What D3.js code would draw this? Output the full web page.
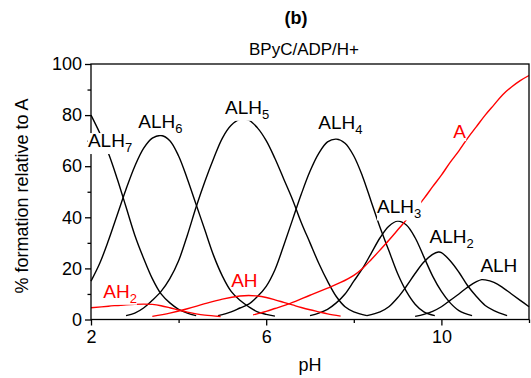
<!DOCTYPE html>
<html>
<head>
<meta charset="utf-8">
<script src="https://cdn.jsdelivr.net/npm/d3@7"></script>
<style>
  html, body { margin: 0; padding: 0; background: #fff; }
  text { font-family: "Liberation Sans", Arial, sans-serif; }
</style>
</head>
<body>
<svg id="chart" width="531" height="378"></svg>
<script>
// ---- data (pH, % formation relative to A) ----
const xTicksMajor = [2, 6, 10];
const xTicksMinor = [4, 8, 12];
const yTicksMajor = [0, 20, 40, 60, 80, 100];
const yTicksMinor = [10, 30, 50, 70, 90];

const ALH7 = [[2.0,80],[2.2,73],[2.4,65],[2.6,55],[2.8,44],[3.0,33],[3.2,24],[3.4,16],[3.6,10],[3.8,6.5],[4.0,4],[4.2,2.5],[4.4,1.5]];
const ALH6 = [[2.0,15],[2.2,22],[2.4,31],[2.6,41],[2.8,51],[3.0,60],[3.2,67],[3.4,71],[3.6,72],[3.8,70],[4.0,64],[4.2,55],[4.4,45],[4.6,35],[4.8,25],[5.0,17],[5.2,11],[5.4,7.5],[5.6,5],[5.8,3],[6.0,2],[6.2,1.3]];
const ALH5 = [[2.8,1.5],[3.0,2.5],[3.2,4.5],[3.4,7.5],[3.6,11],[3.8,16],[4.0,23],[4.2,33],[4.4,44],[4.6,54],[4.8,63],[5.0,71],[5.2,76],[5.4,78.3],[5.6,78],[5.8,75],[6.0,70],[6.2,63],[6.4,55],[6.6,47],[6.8,38],[7.0,30],[7.2,22],[7.4,15],[7.6,9],[7.8,5],[8.0,3],[8.3,1.5]];
const ALH4 = [[4.9,1.5],[5.2,3],[5.4,4.5],[5.6,6],[5.8,9],[6.0,13],[6.2,19.5],[6.4,29],[6.6,39],[6.8,49],[7.0,58],[7.2,65],[7.4,69.5],[7.6,70.6],[7.8,69],[8.0,64],[8.2,56],[8.4,46],[8.6,36],[8.8,27],[9.0,18],[9.2,11],[9.4,6],[9.6,3],[9.85,1.5]];
const ALH3 = [[7.0,1.5],[7.2,2.5],[7.4,4],[7.6,6.5],[7.8,10],[8.0,15],[8.2,20],[8.4,26],[8.6,32],[8.8,36.5],[9.0,38.5],[9.2,37],[9.4,32],[9.6,24.5],[9.8,17],[10.0,11],[10.2,6.5],[10.4,3.5],[10.7,1.5]];
const ALH2 = [[8.3,1.5],[8.6,3],[8.8,5],[9.0,8.5],[9.2,13],[9.4,18],[9.6,22.5],[9.8,25.5],[9.93,26.4],[10.0,26.2],[10.2,23],[10.4,18.5],[10.6,13.2],[10.8,9],[11.0,5.5],[11.2,3.5],[11.5,1.5]];
const ALH  = [[9.4,1.2],[9.6,2],[9.8,3.2],[10.0,5],[10.2,7.5],[10.4,10],[10.6,12.7],[10.8,14.8],[10.92,15.6],[11.0,15.5],[11.2,14.5],[11.4,12.5],[11.6,10],[11.8,7.5],[12.0,5]];
const AH2  = [[2.0,4.6],[2.4,5.2],[2.8,5.8],[3.2,6.0],[3.4,5.9],[3.6,5.4],[3.8,4.6],[4.0,3.7],[4.2,2.9],[4.4,2.2],[4.6,1.7],[4.96,1.2]];
const AH   = [[3.4,1.2],[3.8,2.5],[4.2,4.2],[4.6,6.2],[5.0,8],[5.4,9.2],[5.6,9.4],[5.8,9.2],[6.0,8.6],[6.2,7.7],[6.4,6.7],[6.6,5.7],[6.8,4.7],[7.0,3.8],[7.2,3.0],[7.4,2.2],[7.7,1.3]];
const A    = [[5.7,1.8],[6.0,3.2],[6.2,4.3],[6.55,6.3],[7.0,9.5],[7.4,12.3],[7.7,14.5],[8.0,17.3],[8.2,20],[8.4,23.5],[8.6,27.2],[8.8,31],[9.0,35],[9.2,39],[9.4,43],[9.6,47.3],[9.8,52],[10.0,56.5],[10.2,61.5],[10.4,66],[10.6,71],[10.8,75.5],[11.0,80],[11.2,84],[11.4,88],[11.6,91],[11.8,93.5],[12.0,95.5]];

const blackSeries = [ALH7, ALH6, ALH5, ALH4, ALH3, ALH2, ALH];
const redSeries = [AH2, AH, A];

// labels: [main, subscript, pH, %, colour] (anchor = left/baseline)
const labelNames = ["ALH", "ALH", "ALH", "ALH", "ALH", "ALH", "ALH", "A", "AH", "AH"];
const labelSubs  = ["7", "6", "5", "4", "3", "2", "", "", "2", ""];
const labelPH    = [1.93, 3.08, 5.06, 7.19, 8.53, 9.73, 10.89, 10.27, 2.28, 5.2];
const labelPct   = [67.5, 75, 80.5, 74.5, 41.5, 30, 18.5, 71, 8.5, 12.8];
const labelRed   = [false, false, false, false, false, false, false, true, true, true];

// ---- layout ----
const svg = d3.select("#chart");
const L = 91, R = 529, T = 64, B = 319.5;
const x = d3.scaleLinear().domain([2, 12]).range([L, R]);
const y = d3.scaleLinear().domain([0, 100]).range([B, T]);

const line = d3.line().x(d => x(d[0])).y(d => y(d[1])).curve(d3.curveCatmullRom.alpha(0.5));

const g = svg.append("g");
blackSeries.forEach(s => g.append("path").attr("d", line(s)).attr("fill","none").attr("stroke","#000").attr("stroke-width",1.4));
redSeries.forEach(s => g.append("path").attr("d", line(s)).attr("fill","none").attr("stroke","#ff0000").attr("stroke-width",1.4));

// frame
svg.append("rect").attr("x", L).attr("y", T).attr("width", R - L).attr("height", B - T)
  .attr("fill","none").attr("stroke","#000").attr("stroke-width",1.3);

// axes
const yAxis = d3.axisLeft(y).tickValues(yTicksMajor).tickSize(6).tickPadding(3);
svg.append("g").attr("transform", `translate(${L},0)`).call(yAxis);
const yMin = d3.axisLeft(y).tickValues(yTicksMinor).tickSize(3.5).tickFormat("");
svg.append("g").attr("transform", `translate(${L},0)`).call(yMin);
const xAxis = d3.axisBottom(x).tickValues(xTicksMajor).tickSize(6).tickPadding(5);
svg.append("g").attr("transform", `translate(0,${B})`).call(xAxis);
const xMin = d3.axisBottom(x).tickValues(xTicksMinor).tickSize(3.5).tickFormat("");
svg.append("g").attr("transform", `translate(0,${B})`).call(xMin);
svg.selectAll(".domain").remove();
svg.selectAll(".tick line").attr("stroke","#000").attr("stroke-width",1.3);
svg.selectAll(".tick text").attr("font-size",18).attr("fill","#000").attr("font-family","Liberation Sans, Arial, sans-serif");

// labels with white background
labelNames.forEach((main, i) => {
  const sub = labelSubs[i];
  const col = labelRed[i] ? "#ff0000" : "#000";
  const lg = svg.append("g");
  const t = lg.append("text").attr("x", x(labelPH[i])).attr("y", y(labelPct[i])).attr("font-size",19).attr("fill",col);
  t.append("tspan").text(main);
  if (sub) t.append("tspan").attr("font-size",13).attr("dy",5).text(sub);
  const bb = t.node().getBBox();
  lg.insert("rect","text").attr("x",bb.x).attr("y",bb.y+3).attr("width",bb.width).attr("height",bb.height-4).attr("fill","#fff");
});

// titles
svg.append("text").attr("x",296).attr("y",24).attr("text-anchor","middle").attr("font-size",18).attr("font-weight","bold").text("(b)");
svg.append("text").attr("x",304).attr("y",55).attr("text-anchor","middle").attr("font-size",17).text("BPyC/ADP/H+");
svg.append("text").attr("x",310).attr("y",371).attr("text-anchor","middle").attr("font-size",18).text("pH");
svg.append("text").attr("transform","translate(28,196) rotate(-90)").attr("text-anchor","middle").attr("font-size",18).text("% formation relative to A");
</script>
</body>
</html>
